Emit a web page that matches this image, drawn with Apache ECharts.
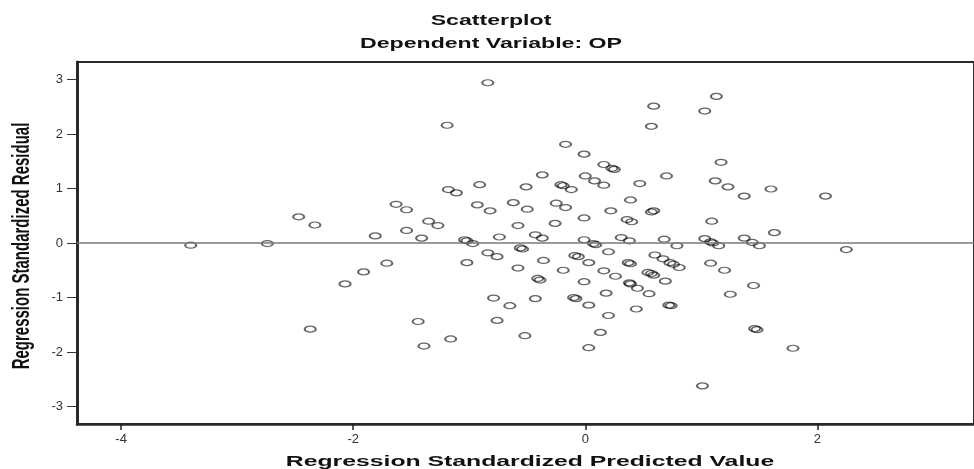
<!DOCTYPE html>
<html>
<head>
<meta charset="utf-8">
<script src="https://cdn.jsdelivr.net/npm/echarts@6/dist/echarts.min.js"></script>
<style>
html,body{margin:0;padding:0;background:#fff;}
#chart{width:974px;height:469px;}
</style>
</head>
<body>
<div id="chart"></div>
<script>
const titleText = "Scatterplot";
const subtitleText = "Dependent Variable: OP";
const xAxisTitle = "Regression Standardized Predicted Value";
const yAxisTitle = "Regression Standardized Residual";
const xTicks = [-4, -2, 0, 2];
const yTicks = [-3, -2, -1, 0, 1, 2, 3];
const referenceY = 0;

const predicted = [
 -3.40,-2.74,-2.47,-2.33,-2.37,-2.07,-1.91,-1.71,-1.81,-1.63,
 -1.54,-1.54,-1.41,-1.35,-1.27,-1.44,-1.39,-1.16,-1.19,-0.84,
 -1.18,-1.11,-0.91,-0.93,-0.82,-1.04,-1.02,-0.97,-1.02,-0.84,
 -0.76,-0.79,-0.76,-0.65,-0.74,-0.62,-0.51,-0.50,-0.58,-0.56,
 -0.54,-0.58,-0.43,-0.52,-0.43,-0.37,-0.37,-0.41,-0.39,-0.36,
 -0.26,-0.25,-0.17,-0.17,-0.21,-0.19,-0.12,-0.19,-0.09,-0.06,
 -0.10,-0.08,-0.01,0.00,-0.01,-0.01,0.07,0.09,0.03,-0.01,
 0.03,0.03,0.13,0.08,0.16,0.16,0.23,0.25,0.22,0.20,
 0.16,0.26,0.18,0.20,0.31,0.38,0.36,0.40,0.39,0.47,
 0.37,0.39,0.38,0.39,0.45,0.44,0.55,0.54,0.59,0.57,
 0.60,0.67,0.57,0.59,0.59,0.57,0.70,0.68,0.79,0.73,
 0.76,0.81,0.69,0.72,0.74,1.03,1.13,1.17,1.12,1.23,
 1.37,1.60,2.07,1.09,1.63,1.03,1.08,1.10,1.15,1.37,
 1.44,1.50,2.25,1.08,1.20,1.25,1.45,1.46,1.48,1.79,
 1.01
];
const residual = [
 -0.04,-0.01,0.48,0.33,-1.58,-0.75,-0.53,-0.37,0.13,0.71,
 0.61,0.23,0.09,0.40,0.32,-1.44,-1.89,-1.76,2.16,2.94,
 0.98,0.92,1.07,0.70,0.59,0.06,0.04,-0.01,-0.36,-0.18,
 -0.25,-1.01,-1.42,-1.15,0.11,0.74,1.03,0.62,0.32,-0.09,
 -0.11,-0.46,-1.02,-1.70,0.15,0.09,1.25,-0.65,-0.68,-0.32,
 0.36,0.73,0.65,1.81,1.07,1.05,0.98,-0.50,-0.23,-0.25,
 -1.00,-1.02,1.63,1.23,0.46,0.06,-0.01,-0.03,-0.36,-0.71,
 -1.14,-1.92,-1.64,1.14,1.06,1.44,1.37,1.35,0.59,-0.16,
 -0.51,-0.61,-0.92,-1.33,0.10,0.04,0.43,0.39,0.79,1.09,
 -0.36,-0.38,-0.73,-0.75,-0.83,-1.21,-0.93,-0.54,-0.59,-0.56,
 -0.22,-0.29,0.57,0.59,2.51,2.14,1.23,0.07,-0.05,-0.36,
 -0.39,-0.45,-0.70,-1.14,-1.15,2.42,2.69,1.48,1.14,1.03,
 0.86,0.99,0.86,0.40,0.19,0.08,0.02,0.00,-0.05,0.09,
 0.01,-0.05,-0.12,-0.37,-0.50,-0.94,-0.78,-1.57,-1.59,-1.93,
 -2.62
];

const points = predicted.map((x, i) => [x, residual[i]]);
const FONT = '"Liberation Sans", Arial, sans-serif';
const STRETCH = 1.65;

const chart = echarts.init(document.getElementById('chart'), null, {renderer: 'canvas'});
chart.setOption({
  animation: false,
  backgroundColor: '#fff',
  grid: {left: 77, top: 62, bottom: 45, right: -5, show: true, borderColor: '#2a2a2a', borderWidth: 2, backgroundColor: 'rgba(0,0,0,0)'},
  xAxis: {
    type: 'value', min: -4.38, max: 3.35,
    splitLine: {show: false},
    axisLine: {show: true, onZero: false, lineStyle: {color: '#2a2a2a', width: 2.5}},
    axisTick: {show: true, length: 6, customValues: xTicks, lineStyle: {color: '#222', width: 1.5}},
    axisLabel: {customValues: xTicks, margin: 9, color: '#333', fontSize: 13, fontFamily: FONT}
  },
  yAxis: {
    type: 'value', min: -3.32, max: 3.32,
    splitLine: {show: false},
    axisLine: {show: true, onZero: false, lineStyle: {color: '#2a2a2a', width: 3}},
    axisTick: {show: true, length: 10, customValues: yTicks, lineStyle: {color: '#333', width: 1}},
    axisLabel: {customValues: yTicks, margin: 14, color: '#333', fontSize: 13, fontFamily: FONT}
  },
  series: [{
    type: 'scatter',
    data: points,
    symbol: 'circle',
    symbolSize: [11, 6],
    itemStyle: {color: 'rgba(255,255,255,0)', borderColor: 'rgba(0,0,0,0.75)', borderWidth: 1.6},
    emphasis: {disabled: true},
    silent: true,
    markLine: {
      silent: true,
      symbol: 'none',
      label: {show: false},
      lineStyle: {color: '#7a7a7a', width: 1.5, type: 'solid'},
      data: [{yAxis: referenceY}]
    },
    z: 3
  }],
  graphic: [
    {type: 'text', x: 491, y: 21, scaleX: STRETCH, style: {text: titleText, font: 'bold 14px ' + FONT, fill: '#111', textAlign: 'center', textVerticalAlign: 'middle'}},
    {type: 'text', x: 491, y: 44, scaleX: STRETCH, style: {text: subtitleText, font: 'bold 14px ' + FONT, fill: '#111', textAlign: 'center', textVerticalAlign: 'middle'}},
    {type: 'text', x: 530, y: 462, scaleX: STRETCH, style: {text: xAxisTitle, font: 'bold 15px ' + FONT, fill: '#111', textAlign: 'center', textVerticalAlign: 'middle'}},
    {type: 'text', x: 22, y: 246, rotation: Math.PI / 2, scaleY: STRETCH, style: {text: yAxisTitle, font: 'bold 15px ' + FONT, fill: '#111', textAlign: 'center', textVerticalAlign: 'middle'}}
  ]
});
</script>
</body>
</html>
